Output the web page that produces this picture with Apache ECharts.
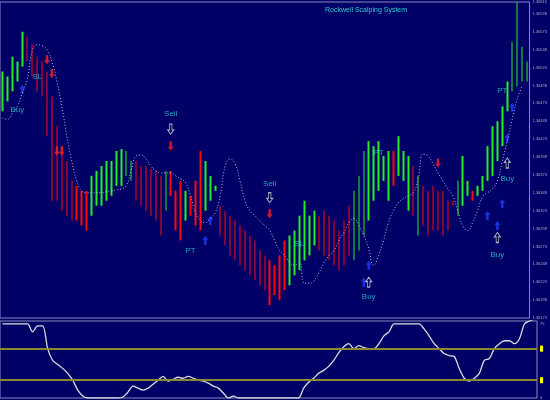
<!DOCTYPE html>
<html>
<head>
<meta charset="utf-8">
<script src="https://cdn.jsdelivr.net/npm/echarts@6/dist/echarts.min.js"></script>
<style>
html, body { margin: 0; padding: 0; background: #000066; }
#chart { width: 550px; height: 400px; }
</style>
</head>
<body>
<div id="chart"></div>
<script>
// bars, one every 5px; values are (320 - pixel y)
var highs = [250,245,265,260,290,285,278,265,260,250,225,195,175,160,140,135,130,130,145,150,155,160,160,170,172,170,160,160,155,155,152,150,145,150,150,130,140,130,125,140,170,160,145,130,115,110,105,100,95,90,85,80,70,65,60,55,65,80,85,90,105,120,105,110,105,110,105,100,90,100,115,130,145,170,180,175,180,165,170,170,185,170,165,155,145,135,130,135,130,130,120,120,140,165,140,130,135,145,175,195,200,215,240,280,320,275,260];
var lows  = [210,220,230,240,255,260,245,230,225,185,120,120,110,105,100,100,95,90,105,115,115,120,125,135,135,145,140,120,115,110,105,100,85,110,125,90,80,100,105,95,90,110,120,135,85,75,65,60,55,50,45,40,35,30,15,25,20,30,35,45,50,60,65,75,70,65,60,55,50,55,65,60,70,85,100,120,130,140,120,135,145,140,110,105,85,95,85,90,90,85,90,115,105,115,125,120,125,130,140,145,160,175,210,230,235,240,240];
var colors = 'gggggrrrrrrrrrrrrrgggggggggrrrrrrgrrrgrrrgggrrrrrrrrrrrrrrggggggrrrrrrrggggggggrgggrgrrrrrrrgggrgggggggggggggrr';
var trail = [203,202,208,215,228,242,270,277,276,272,260,240,215,185,160,140,130,128,128,128,128,129,130,131,132,135,150,165,166,162,155,150,148,148,148,145,142,138,125,108,100,98,102,108,125,155,162,157,140,120,110,105,100,95,90,80,70,65,58,55,58,37,37,40,48,58,65,70,80,88,98,102,95,85,72,55,65,80,98,110,118,122,125,128,142,167,165,157,148,140,132,125,110,95,90,98,110,124,128,132,140,160,180,202,222,235];
// oscillator, value = 400 - pixel y, one point every 5px
var osc = [75,75,75,75,75,75,67,73,73,50,38,34,30,25,18,8,2,0,0,0,0,0,0,0,1,6,12,10,8,10,14,18,22,17,19,21,20,22,20,18,17,15,12,10,5,0,2,0,0,0,0,0,0,0,0,0,0,0,0,0,10,16,20,25,28,32,38,46,52,55,50,53,51,50,50,55,63,67,75,75,75,75,75,75,70,63,55,50,45,43,42,30,20,17,20,25,38,40,50,55,58,58,55,60,75,78,80];
var labels = [];
for (var i = 0; i < highs.length; i++) labels.push(i);

// annotations: [bar index, value, text]
var texts = [[3,212,'Buy'],[7,245,'SL'],[34,207,'Sell'],[38,70,'PT'],[54,137,'Sell'],[60,77,'SL'],[74,23,'Buy'],[76,168,'PT'],[101,231,'PT'],[102,142,'Buy'],[100,66,'Buy']];
var blueUp = [[4,232],[41,80],[42,100],[73,38],[74,55],[98,105],[100,95],[101,117],[102,183],[103,214]];
var redDown = [[9,262],[10,248],[11,170],[12,170],[34,175],[54,107],[88,158]];
var whiteDown = [[34,192],[54,123]];
var whiteUp = [[74,38],[100,83],[102,158]];

var candles = [];
for (var i = 0; i < highs.length; i++) {
    var up = colors[i] == 'g';
    var c = up ? '#22ee22' : '#ff0808';
    candles.push({
        value: up ? [lows[i], highs[i], lows[i], highs[i]] : [highs[i], lows[i], lows[i], highs[i]],
        itemStyle: { color: c, color0: c, borderColor: c, borderColor0: c, borderWidth: 0 }
    });
}

var arrowUp = 'path://M5,0 L10,6 L7,6 L7,14 L3,14 L3,6 L0,6 Z';

var chart = echarts.init(document.getElementById('chart'));
chart.setOption({
    backgroundColor: '#000066',
    animation: false,
    title: {
        text: 'Rockwell Scalping System', left: 320, top: 2,
        textStyle: { color: '#33cccc', fontSize: 7, fontWeight: 'normal', fontFamily: 'Liberation Sans' }
    },
    grid: [
        { left: 0, top: 0, width: 537, height: 318, show: true, borderColor: '#8888bb', borderWidth: 1 },
        { left: 0, top: 321, width: 537, height: 79, show: true, borderColor: '#8888bb', borderWidth: 1 }
    ],
    xAxis: [
        { type: 'category', data: labels, gridIndex: 0, boundaryGap: true, show: false },
        { type: 'category', data: labels, gridIndex: 1, boundaryGap: true, show: false }
    ],
    yAxis: [
        { type: 'value', gridIndex: 0, min: 2, max: 320, position: 'right', interval: 18, splitLine: { show: false },
          axisLine: { show: false }, axisTick: { show: false },
          axisLabel: { color: '#aaaacc', fontSize: 4, margin: 3, formatter: function (v) { return (1.3017 + v * 0.0000139).toFixed(5); } } },
        { type: 'value', gridIndex: 1, min: 0, max: 78, position: 'right', interval: 75, splitLine: { show: false },
          axisLine: { show: false }, axisTick: { show: false },
          axisLabel: { color: '#aaaacc', fontSize: 4, margin: 3 } }
    ],
    series: [
        { type: 'candlestick', data: candles, barWidth: 2, xAxisIndex: 0, yAxisIndex: 0 },
        { type: 'line', data: trail, symbol: 'none', smooth: true,
          lineStyle: { color: '#bbbbdd', width: 1, type: [1, 2] } },
        { type: 'line', data: osc, symbol: 'none', xAxisIndex: 1, yAxisIndex: 1, smooth: 0.3,
          lineStyle: { color: '#dddddd', width: 1.3 },
          markLine: { symbol: 'none', silent: true,
              lineStyle: { color: '#8a8a30', width: 2, type: 'solid' },
              label: { position: 'end', formatter: ' ', fontSize: 4, backgroundColor: '#ffff00', padding: [1, 1], distance: 3 },
              data: [{ yAxis: 50 }, { yAxis: 18 }] } },
        { type: 'scatter', data: texts, symbolSize: 0,
          label: { show: true, position: 'inside', formatter: function (p) { return p.data[2]; },
                   color: '#33cccc', fontSize: 8, fontFamily: 'Liberation Sans' } },
        { type: 'scatter', data: blueUp, symbol: arrowUp, symbolSize: [6, 9], itemStyle: { color: '#1f3dff' } },
        { type: 'scatter', data: redDown, symbol: arrowUp, symbolRotate: 180, symbolSize: [6, 9], itemStyle: { color: '#ff2020' } },
        { type: 'scatter', data: whiteDown, symbol: arrowUp, symbolRotate: 180, symbolSize: [6, 10],
          itemStyle: { color: 'rgba(0,0,0,0)', borderColor: '#dddddd', borderWidth: 1 } },
        { type: 'scatter', data: whiteUp, symbol: arrowUp, symbolSize: [6, 10],
          itemStyle: { color: 'rgba(0,0,0,0)', borderColor: '#dddddd', borderWidth: 1 } }
    ]
});
</script>
</body>
</html>
